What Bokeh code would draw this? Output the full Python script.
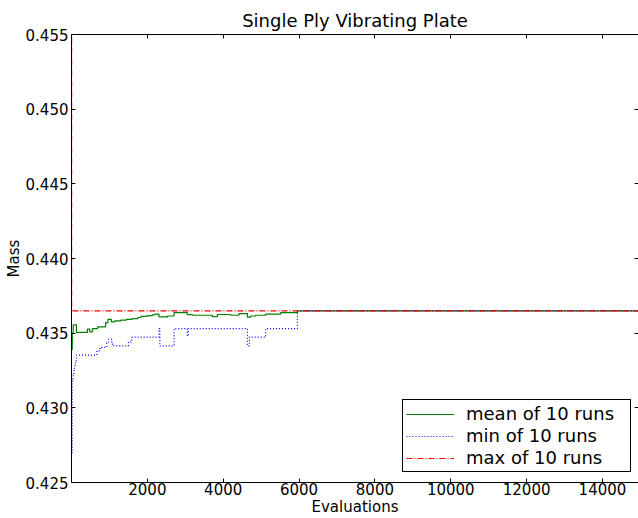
from bokeh.plotting import figure
from bokeh.models import (FixedTicker, LinearAxis, Legend, LegendItem,
                          PrintfTickFormatter, Range1d)
from bokeh.embed import file_html
from bokeh.resources import INLINE

# ---- data ----
mean_x = [0, 20, 45, 130, 420, 480, 550, 690, 900, 960, 1050, 1140, 1300,
          1450, 1600, 1750, 1830, 2000, 2130, 2200, 2308, 2530, 2704, 3050,
          3188, 3715, 3847, 4198, 4416, 4638, 4725, 4856, 5120, 5515, 5955,
          15000]
mean_y = [0.4339, 0.4350, 0.43556, 0.43505, 0.43527, 0.43509, 0.43531,
          0.43542, 0.43571, 0.43593, 0.43575, 0.43582, 0.43587, 0.43593,
          0.43598, 0.43605, 0.43612, 0.43617, 0.43622, 0.43627, 0.43609,
          0.43615, 0.43638, 0.43624, 0.43620, 0.43611, 0.43625, 0.43620,
          0.43631, 0.43607, 0.43615, 0.43620, 0.43627, 0.43638, 0.43649,
          0.43649]

min_x = [0, 20, 40, 60, 80, 100, 130, 670, 750, 930, 975, 1063, 1120, 1500,
         1590, 2308, 2330, 2704, 3050, 3080, 4638, 4690, 5120, 5955, 15000]
min_y = [0.4270, 0.43182, 0.43215, 0.43249, 0.43282, 0.43315, 0.43353,
         0.43382, 0.43405, 0.43433, 0.43460, 0.43427, 0.43415, 0.43442,
         0.43473, 0.43531, 0.43415, 0.43531, 0.43482, 0.43531, 0.43415,
         0.43473, 0.43531, 0.43649, 0.43649]

max_x = [0, 3, 15000]
max_y = [0.4600, 0.43649, 0.43649]

x_ticks = [2000, 4000, 6000, 8000, 10000, 12000, 14000]
y_ticks = [0.425, 0.430, 0.435, 0.440, 0.445, 0.450, 0.455]

FONT = "DejaVu Sans"

p = figure(width=638, height=518, output_backend="svg", toolbar_location=None,
           x_range=Range1d(0, 14950), y_range=Range1d(0.425, 0.455),
           min_border_left=71, min_border_right=0, min_border_top=34,
           min_border_bottom=34, title="Single Ply Vibrating Plate")
p.outline_line_color = None
p.xgrid.visible = False
p.ygrid.visible = False
p.background_fill_color = "white"
p.border_fill_color = "white"

p.title.text_font = FONT
p.title.text_font_size = "18px"
p.title.text_font_style = "normal"
p.title.align = "center"
p.title.text_color = "black"
p.title.standoff = 7

xa = p.xaxis[0]
ya = p.yaxis[0]
xa.ticker = FixedTicker(ticks=x_ticks)
ya.ticker = FixedTicker(ticks=y_ticks)
xa.formatter = PrintfTickFormatter(format="%d")
ya.formatter = PrintfTickFormatter(format="%.3f")
xa.axis_label = "Evaluations"
ya.axis_label = "Mass"
for ax in (xa, ya):
    ax.major_tick_in = 4
    ax.major_tick_out = 0
    ax.minor_tick_line_color = None
    ax.axis_line_color = "black"
    ax.major_tick_line_color = "black"
    ax.major_label_text_font = FONT
    ax.major_label_text_font_size = "15px"
    ax.major_label_text_color = "black"
    ax.axis_label_text_font = FONT
    ax.axis_label_text_font_size = "15px"
    ax.axis_label_text_font_style = "normal"
    ax.axis_label_text_color = "black"
xa.major_label_standoff = 0
xa.axis_label_standoff = 0
ya.major_label_standoff = 3
ya.axis_label_standoff = 0

top = LinearAxis(ticker=FixedTicker(ticks=x_ticks), major_tick_in=4,
                 major_tick_out=0, minor_tick_line_color=None,
                 major_label_text_font_size="1px", major_label_text_color=None,
                 major_label_standoff=0, axis_line_color="black")
p.add_layout(top, "above")
right = LinearAxis(ticker=FixedTicker(ticks=y_ticks), major_tick_in=4,
                   major_tick_out=0, minor_tick_line_color=None,
                   major_label_text_font_size="1px",
                   major_label_text_color=None,
                   major_label_standoff=0, axis_line_color=None)
p.add_layout(right, "right")

r_mean = p.step(mean_x, mean_y, mode="after", line_color="#008000",
                line_width=1.2)
r_min = p.step(min_x, min_y, mode="after", line_color="#0000ff",
               line_width=1.2, line_dash="1 2")
r_max = p.step(max_x, max_y, mode="after", line_color="#ff0000",
               line_width=1.2, line_dash="6 2 1 2")

legend = Legend(items=[LegendItem(label="mean of 10 runs", renderers=[r_mean]),
                       LegendItem(label="min of 10 runs", renderers=[r_min]),
                       LegendItem(label="max of 10 runs", renderers=[r_max])],
                location=(331, 10))
legend.border_line_color = "black"
legend.border_line_width = 1
legend.border_line_alpha = 1
legend.background_fill_color = "white"
legend.background_fill_alpha = 1
legend.label_text_font = FONT
legend.label_text_font_size = "18px"
legend.label_text_color = "black"
legend.padding = 3
legend.spacing = 1
legend.margin = 0
legend.glyph_width = 48
legend.label_standoff = 12
legend.label_width = 161
legend.label_height = 18
legend.glyph_height = 18
p.add_layout(legend)

open("out.html", "w").write(file_html(p, INLINE))
